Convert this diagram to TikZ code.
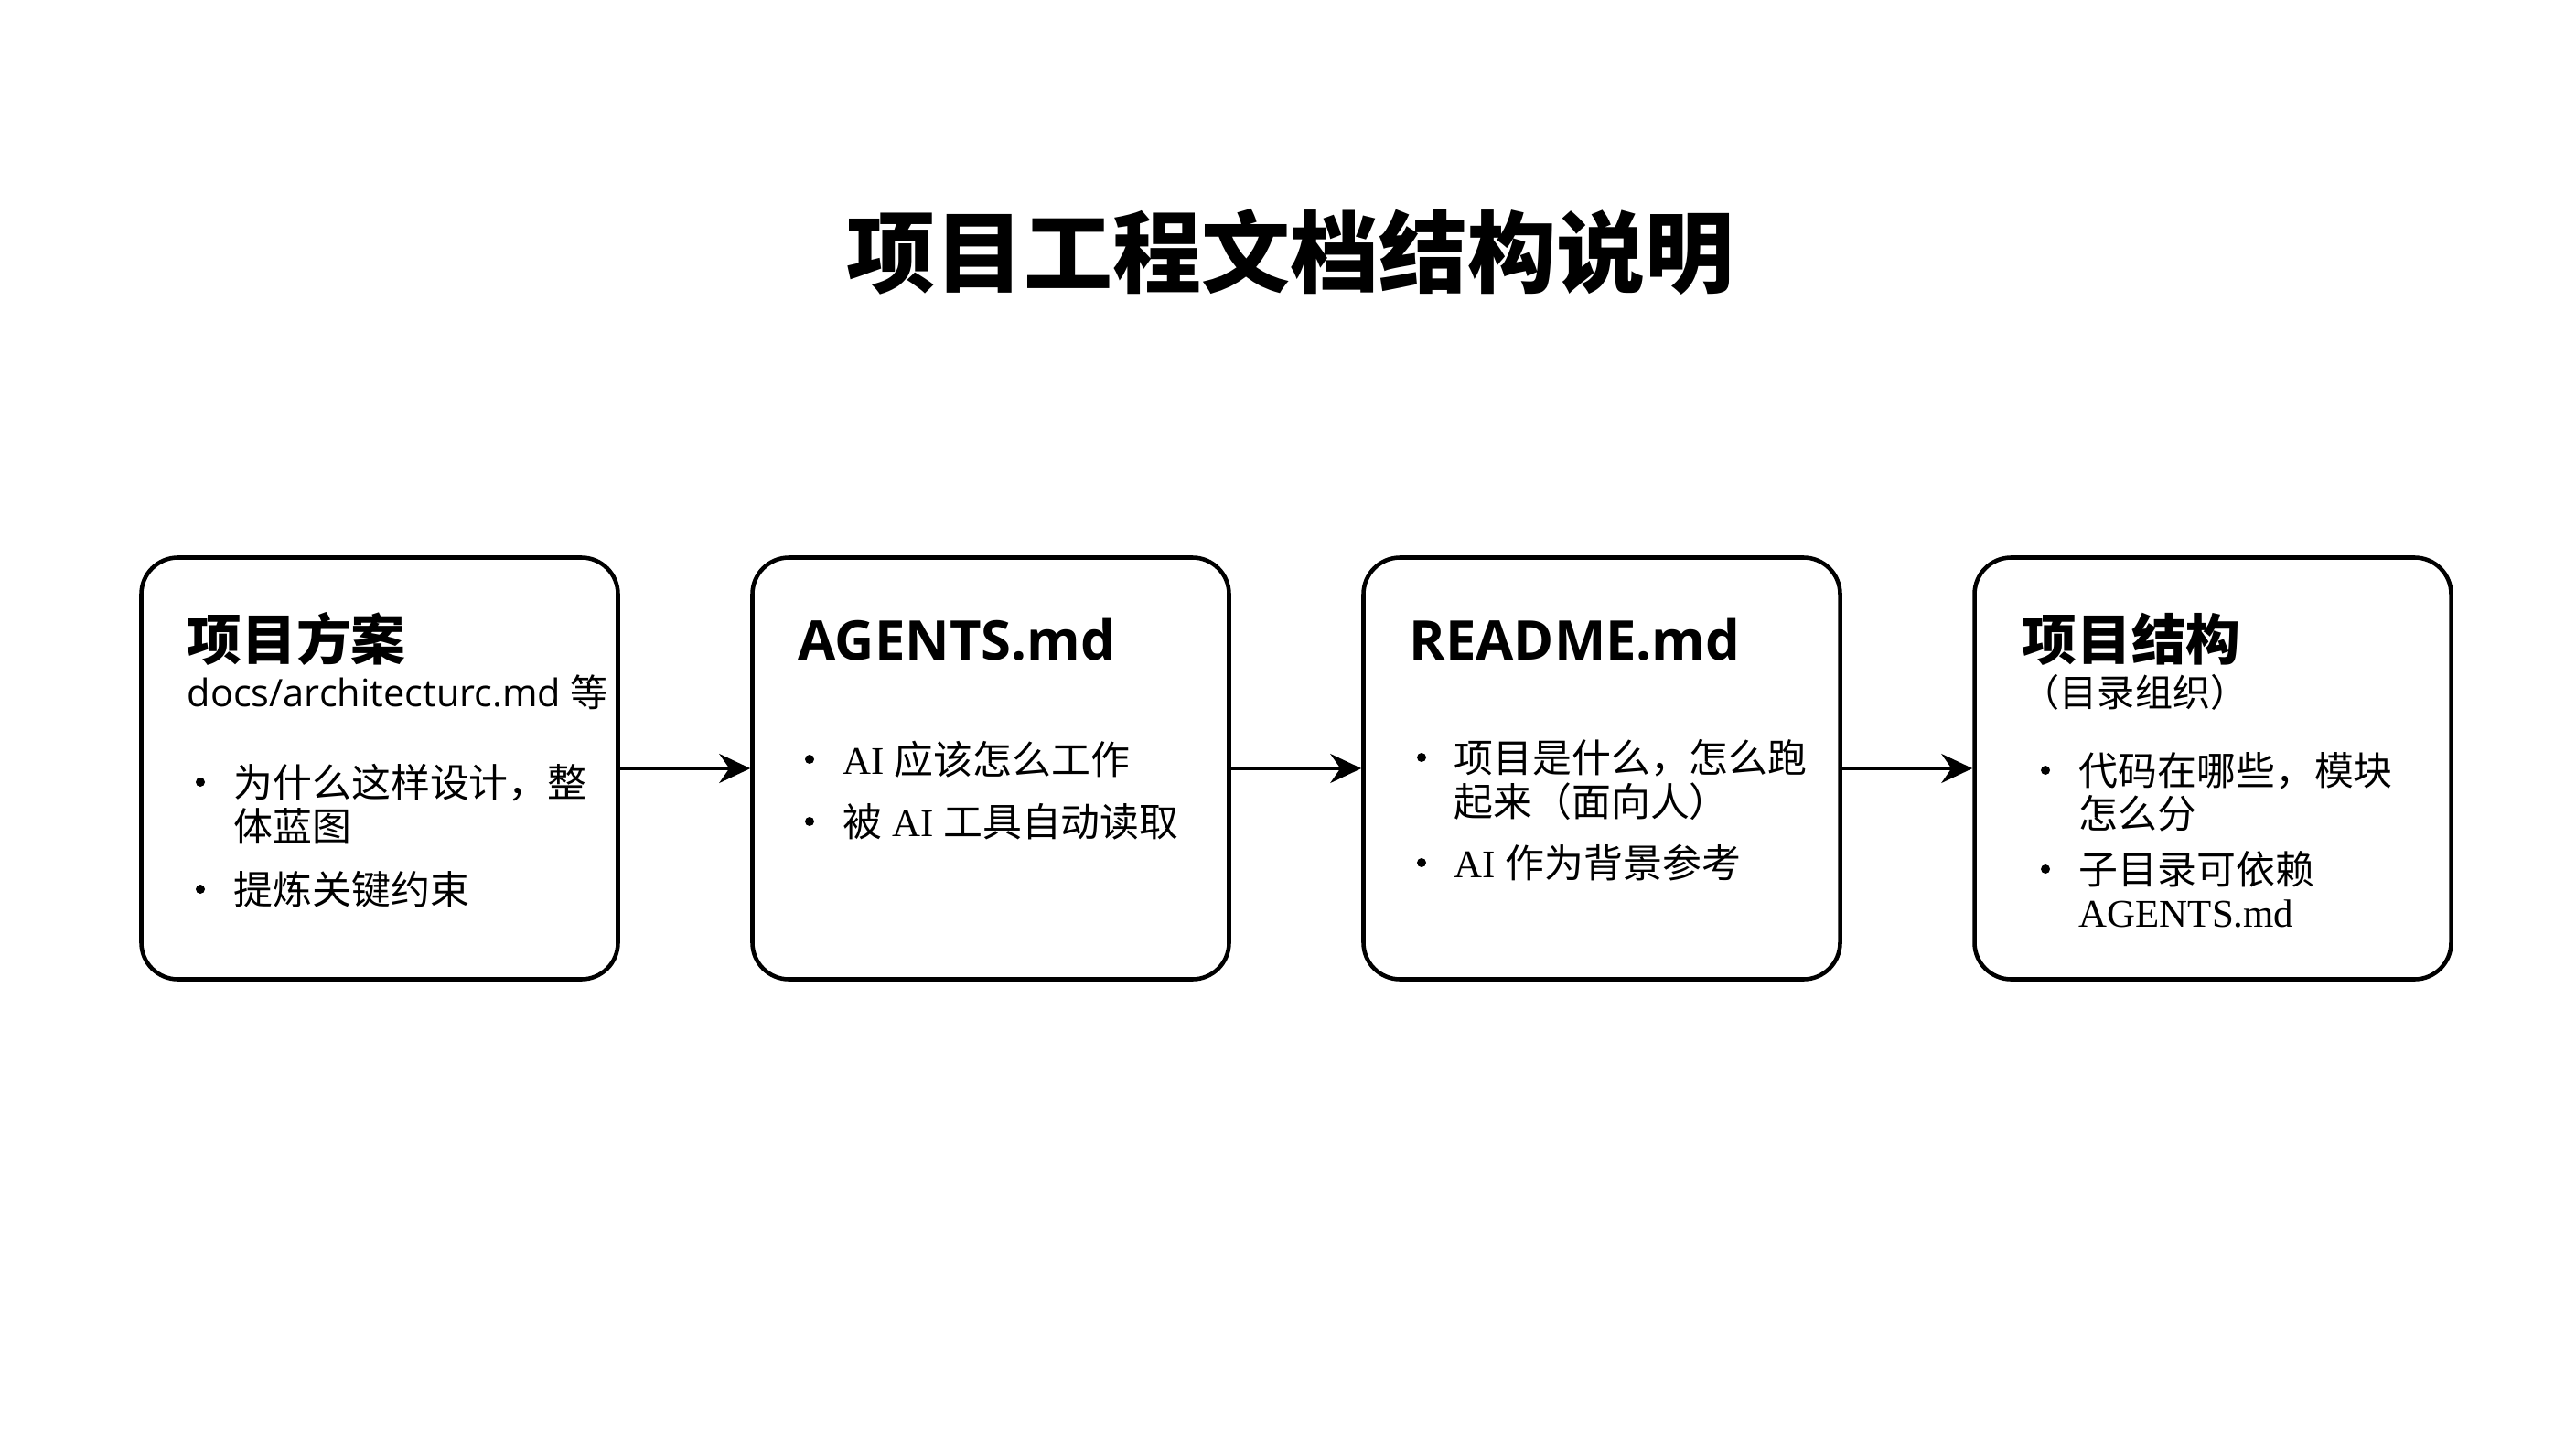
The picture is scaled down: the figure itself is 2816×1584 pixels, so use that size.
\documentclass[tikz,border=0pt]{standalone}
\usepackage{fontspec}
\setmainfont{Liberation Serif}
\newfontfamily\cjk{Noto Sans CJK SC}
\newfontfamily\sans{Open Sans}
\usetikzlibrary{arrows.meta}
\tikzset{
  card/.style={draw, line width=1.3pt, rounded corners=4mm, minimum width=52.1mm, minimum height=46.1mm, inner sep=0pt},
  head/.style={anchor=base west, inner sep=0pt, font=\fontsize{17}{20}\selectfont\bfseries},
  sub/.style={anchor=base west, inner sep=0pt, font=\fontsize{11.7}{14}\selectfont},
  item/.style={anchor=base west, inner sep=0pt, font=\fontsize{12.2}{14}\selectfont},
  flow/.style={-{Stealth[length=3.4mm,width=3.2mm]}, line width=0.9pt},
}
\begin{document}
\begin{tikzpicture}[x=0.1mm,y=-0.1mm]
    \fill[white] (0,0) rectangle (2816,1584);
    \useasboundingbox (0,0) rectangle (2816,1584);
    \node[font=\cjk\bfseries\fontsize{27.6}{33}\selectfont, anchor=base] (title) at (1410,313) {项目工程文档结构说明};
    % the four cards
    \foreach \i/\cx in {1/415,2/1083,3/1751,4/2419}
        \node[card] (b\i) at (\cx,840) {};
    \foreach \i/\j in {1/2,2/3,3/4}
        \draw[flow] (b\i.east) -- (b\j.west);
    % card 1
    \node[head] (h1) at (204,721) {\cjk 项目方案};
    \node[sub] (s1) at (204,772) {{\sans\fontsize{11.8}{14}\selectfont docs/architecturc.md} {\cjk 等}};
    \node[item] (l1a) at (255,871) {\cjk 为什么这样设计，整};
    \node[item] (l1b) at (255,919) {\cjk 体蓝图};
    \node[item] (l1c) at (255,988) {\cjk 提炼关键约束};
    \fill (219,855) circle (5);
    \fill (219,972) circle (5);
    % card 2
    \node[head] (h2) at (872,721) {\sans AGENTS.md};
    \node[item] (l2a) at (921,846) {AI {\cjk 应该怎么工作}};
    \node[item] (l2b) at (921,914) {{\cjk 被} AI {\cjk 工具自动读取}};
    \fill (885,830) circle (5);
    \fill (885,898) circle (5);
    % card 3
    \node[head] (h3) at (1540,721) {\sans README.md};
    \node[item] (l3a) at (1589,844) {\cjk 项目是什么，怎么跑};
    \node[item] (l3b) at (1589,892) {\cjk 起来（面向人）};
    \node[item] (l3c) at (1589,959) {AI {\cjk 作为背景参考}};
    \fill (1554,828) circle (5);
    \fill (1554,943) circle (5);
    % card 4
    \node[head] (h4) at (2210,721) {\cjk 项目结构};
    \node[sub] (s4) at (2210,772) {\cjk （目录组织）};
    \node[item] (l4a) at (2272,858) {\cjk 代码在哪些，模块};
    \node[item] (l4b) at (2272,905) {\cjk 怎么分};
    \node[item] (l4c) at (2272,966) {\cjk 子目录可依赖};
    \node[item] (l4d) at (2272,1013) {AGENTS.md};
    \fill (2236,842) circle (5);
    \fill (2236,950) circle (5);
\end{tikzpicture}
\end{document}
